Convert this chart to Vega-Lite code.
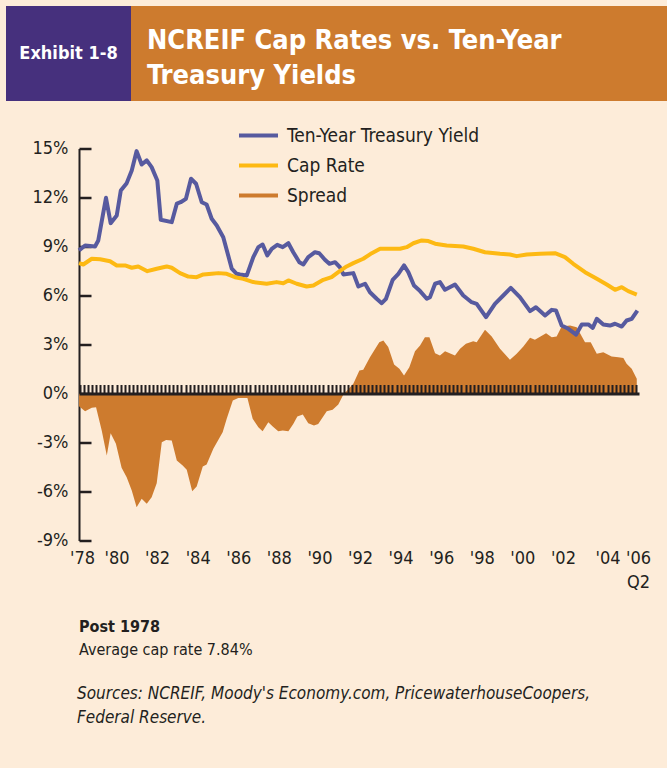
{
  "$schema": "https://vega.github.io/schema/vega-lite/v6.json",
  "background": "#FDECD9",
  "padding": {"left": 6, "top": 6, "right": 0, "bottom": 44},
  "config": {"view": {"stroke": null}, "font": "DejaVu Sans Condensed, Liberation Sans, sans-serif"},
  "datasets": {
    "ty": [
      {"t":1978.15,"v":8.76},{"t":1978.45,"v":9.06},{"t":1978.94,"v":9.0},{"t":1979.10,"v":9.37},{"t":1979.48,"v":11.98},{"t":1979.71,"v":10.43},{"t":1980.01,"v":10.9},{"t":1980.21,"v":12.43},{"t":1980.50,"v":12.88},{"t":1980.75,"v":13.66},{"t":1980.99,"v":14.84},{"t":1981.24,"v":14.02},{"t":1981.49,"v":14.27},{"t":1981.73,"v":13.86},{"t":1982.01,"v":13.04},{"t":1982.18,"v":10.64},{"t":1982.72,"v":10.49},{"t":1982.97,"v":11.62},{"t":1983.16,"v":11.71},{"t":1983.42,"v":11.92},{"t":1983.67,"v":13.15},{"t":1983.92,"v":12.84},{"t":1984.20,"v":11.71},{"t":1984.44,"v":11.57},{"t":1984.69,"v":10.7},{"t":1984.94,"v":10.29},{"t":1985.26,"v":9.57},{"t":1985.68,"v":7.64},{"t":1985.92,"v":7.33},{"t":1986.09,"v":7.29},{"t":1986.42,"v":7.23},{"t":1986.74,"v":8.35},{"t":1986.99,"v":8.96},{"t":1987.20,"v":9.12},{"t":1987.43,"v":8.45},{"t":1987.65,"v":8.86},{"t":1987.92,"v":9.1},{"t":1988.19,"v":8.96},{"t":1988.47,"v":9.2},{"t":1988.71,"v":8.65},{"t":1989.01,"v":8.04},{"t":1989.21,"v":7.9},{"t":1989.45,"v":8.35},{"t":1989.78,"v":8.65},{"t":1989.99,"v":8.59},{"t":1990.27,"v":8.19},{"t":1990.49,"v":7.94},{"t":1990.77,"v":8.04},{"t":1991.01,"v":7.73},{"t":1991.18,"v":7.29},{"t":1991.67,"v":7.37},{"t":1991.92,"v":6.55},{"t":1992.25,"v":6.72},{"t":1992.49,"v":6.2},{"t":1992.82,"v":5.8},{"t":1993.07,"v":5.53},{"t":1993.28,"v":5.8},{"t":1993.61,"v":6.96},{"t":1993.89,"v":7.33},{"t":1994.17,"v":7.84},{"t":1994.38,"v":7.43},{"t":1994.66,"v":6.61},{"t":1994.96,"v":6.27},{"t":1995.29,"v":5.8},{"t":1995.45,"v":5.9},{"t":1995.70,"v":6.72},{"t":1995.94,"v":6.82},{"t":1996.19,"v":6.35},{"t":1996.68,"v":6.67},{"t":1997.09,"v":6.0},{"t":1997.50,"v":5.59},{"t":1997.75,"v":5.49},{"t":1998.21,"v":4.67},{"t":1998.65,"v":5.49},{"t":1999.06,"v":6.0},{"t":1999.43,"v":6.47},{"t":1999.88,"v":5.9},{"t":2000.38,"v":5.04},{"t":2000.67,"v":5.28},{"t":2001.12,"v":4.78},{"t":2001.45,"v":5.12},{"t":2001.66,"v":5.08},{"t":2001.94,"v":4.16},{"t":2002.27,"v":3.96},{"t":2002.65,"v":3.61},{"t":2002.93,"v":4.23},{"t":2003.25,"v":4.23},{"t":2003.47,"v":4.02},{"t":2003.67,"v":4.57},{"t":2003.99,"v":4.23},{"t":2004.32,"v":4.16},{"t":2004.57,"v":4.27},{"t":2004.90,"v":4.1},{"t":2005.14,"v":4.47},{"t":2005.39,"v":4.57},{"t":2005.67,"v":5.08}
    ],
    "cap": [
      {"t":1978.15,"v":7.98},{"t":1978.36,"v":7.9},{"t":1978.78,"v":8.25},{"t":1979.19,"v":8.22},{"t":1979.68,"v":8.1},{"t":1980.01,"v":7.84},{"t":1980.42,"v":7.84},{"t":1980.75,"v":7.7},{"t":1981.07,"v":7.78},{"t":1981.52,"v":7.49},{"t":1981.98,"v":7.64},{"t":1982.47,"v":7.78},{"t":1982.72,"v":7.7},{"t":1983.13,"v":7.37},{"t":1983.54,"v":7.16},{"t":1983.95,"v":7.12},{"t":1984.28,"v":7.29},{"t":1984.69,"v":7.33},{"t":1985.02,"v":7.37},{"t":1985.43,"v":7.33},{"t":1985.84,"v":7.12},{"t":1986.25,"v":7.02},{"t":1986.74,"v":6.82},{"t":1987.40,"v":6.72},{"t":1987.89,"v":6.82},{"t":1988.22,"v":6.75},{"t":1988.47,"v":6.92},{"t":1988.88,"v":6.72},{"t":1989.37,"v":6.55},{"t":1989.70,"v":6.61},{"t":1990.19,"v":6.96},{"t":1990.60,"v":7.12},{"t":1990.93,"v":7.43},{"t":1991.34,"v":7.78},{"t":1991.67,"v":7.98},{"t":1992.16,"v":8.25},{"t":1992.58,"v":8.59},{"t":1992.99,"v":8.86},{"t":1993.48,"v":8.86},{"t":1993.97,"v":8.86},{"t":1994.30,"v":8.96},{"t":1994.63,"v":9.2},{"t":1995.04,"v":9.37},{"t":1995.37,"v":9.33},{"t":1995.70,"v":9.17},{"t":1995.94,"v":9.12},{"t":1996.27,"v":9.06},{"t":1997.09,"v":9.0},{"t":1997.58,"v":8.86},{"t":1998.16,"v":8.65},{"t":1998.90,"v":8.55},{"t":1999.39,"v":8.51},{"t":1999.72,"v":8.41},{"t":2000.22,"v":8.51},{"t":2000.87,"v":8.55},{"t":2001.61,"v":8.59},{"t":2002.10,"v":8.35},{"t":2002.51,"v":7.94},{"t":2003.09,"v":7.43},{"t":2003.67,"v":7.02},{"t":2004.16,"v":6.67},{"t":2004.57,"v":6.35},{"t":2004.90,"v":6.51},{"t":2005.22,"v":6.27},{"t":2005.64,"v":6.06}
    ],
    "spread": [
      {"t":1978.15,"v":-0.78},{"t":1978.45,"v":-1.08},{"t":1978.78,"v":-0.88},{"t":1978.99,"v":-0.84},{"t":1979.27,"v":-2.27},{"t":1979.52,"v":-3.8},{"t":1979.71,"v":-2.43},{"t":1979.97,"v":-3.08},{"t":1980.25,"v":-4.55},{"t":1980.50,"v":-5.13},{"t":1980.75,"v":-5.94},{"t":1980.99,"v":-6.96},{"t":1981.24,"v":-6.45},{"t":1981.49,"v":-6.75},{"t":1981.73,"v":-6.35},{"t":1981.98,"v":-5.49},{"t":1982.23,"v":-2.98},{"t":1982.44,"v":-2.84},{"t":1982.72,"v":-2.88},{"t":1982.97,"v":-4.1},{"t":1983.26,"v":-4.41},{"t":1983.46,"v":-4.67},{"t":1983.73,"v":-5.98},{"t":1983.95,"v":-5.69},{"t":1984.25,"v":-4.47},{"t":1984.44,"v":-4.35},{"t":1984.77,"v":-3.39},{"t":1985.23,"v":-2.37},{"t":1985.43,"v":-1.55},{"t":1985.73,"v":-0.43},{"t":1986.00,"v":-0.27},{"t":1986.45,"v":-0.27},{"t":1986.71,"v":-1.55},{"t":1986.99,"v":-2.06},{"t":1987.20,"v":-2.31},{"t":1987.48,"v":-1.76},{"t":1987.70,"v":-2.02},{"t":1987.97,"v":-2.31},{"t":1988.19,"v":-2.27},{"t":1988.47,"v":-2.31},{"t":1988.71,"v":-1.86},{"t":1988.91,"v":-1.41},{"t":1989.18,"v":-1.29},{"t":1989.45,"v":-1.82},{"t":1989.73,"v":-1.96},{"t":1989.94,"v":-1.86},{"t":1990.36,"v":-1.08},{"t":1990.65,"v":-1.0},{"t":1990.93,"v":-0.67},{"t":1991.18,"v":-0.06},{"t":1991.67,"v":0.59},{"t":1991.97,"v":1.41},{"t":1992.16,"v":1.45},{"t":1992.49,"v":2.22},{"t":1992.95,"v":3.14},{"t":1993.15,"v":3.25},{"t":1993.39,"v":2.84},{"t":1993.68,"v":1.78},{"t":1993.94,"v":1.51},{"t":1994.17,"v":1.1},{"t":1994.43,"v":1.61},{"t":1994.71,"v":2.59},{"t":1994.96,"v":2.94},{"t":1995.20,"v":3.45},{"t":1995.42,"v":3.45},{"t":1995.70,"v":2.47},{"t":1995.94,"v":2.33},{"t":1996.19,"v":2.59},{"t":1996.68,"v":2.33},{"t":1996.93,"v":2.74},{"t":1997.22,"v":3.04},{"t":1997.58,"v":3.2},{"t":1997.75,"v":3.14},{"t":1998.16,"v":3.9},{"t":1998.49,"v":3.49},{"t":1998.90,"v":2.74},{"t":1999.39,"v":2.06},{"t":1999.72,"v":2.43},{"t":2000.05,"v":2.88},{"t":2000.38,"v":3.41},{"t":2000.62,"v":3.29},{"t":2001.17,"v":3.69},{"t":2001.45,"v":3.45},{"t":2001.69,"v":3.49},{"t":2001.94,"v":4.1},{"t":2002.35,"v":4.16},{"t":2002.68,"v":4.06},{"t":2003.09,"v":3.14},{"t":2003.37,"v":3.14},{"t":2003.67,"v":2.43},{"t":2003.99,"v":2.53},{"t":2004.40,"v":2.27},{"t":2004.73,"v":2.22},{"t":2004.98,"v":2.18},{"t":2005.14,"v":1.82},{"t":2005.39,"v":1.51},{"t":2005.64,"v":0.9}
    ]
  },
  "title": {
    "text": ["Sources: NCREIF, Moody's Economy.com, PricewaterhouseCoopers,", "Federal Reserve."],
    "orient": "bottom", "anchor": "start", "frame": "group", "dx": 71, "offset": 28,
    "font": "DejaVu Sans Condensed, Liberation Sans, sans-serif", "fontSize": 17, "fontStyle": "italic", "fontWeight": "normal",
    "color": "#231F20", "lineHeight": 24
  },
  "columns": 1,
  "spacing": 24.5,
  "resolve": {"scale": {"color": "independent"}, "legend": {"color": "independent"}},
  "concat": [
    {
      "spacing": 0,
      "hconcat": [
        {
          "width": 125, "height": 95,
          "view": {"fill": "#46307D", "stroke": null},
          "data": {"values": [{"label": "Exhibit 1-8"}]},
          "mark": {"type": "text", "font": "DejaVu Sans Condensed, Liberation Sans, sans-serif", "fontSize": 18, "fontWeight": "bold", "color": "#FFFFFF"},
          "encoding": {"text": {"field": "label", "type": "nominal"}}
        },
        {
          "width": 536, "height": 95,
          "view": {"fill": "#CD7B2E", "stroke": null},
          "title": {
            "text": ["NCREIF Cap Rates vs. Ten-Year", "Treasury Yields"],
            "orient": "top", "anchor": "start", "frame": "group", "baseline": "bottom",
            "offset": -111, "dx": 16,
            "font": "DejaVu Sans Condensed, Liberation Sans, sans-serif", "fontSize": 27, "fontWeight": "bold",
            "color": "#FFFFFF", "lineHeight": 35
          },
          "data": {"values": []},
          "mark": {"type": "text"},
          "encoding": {}
        }
      ]
    },
    {
      "spacing": 0,
      "resolve": {"scale": {"color": "independent"}, "legend": {"color": "independent"}},
      "hconcat": [
        {
          "width": 1, "height": 1,
          "data": {"values": []},
          "mark": {"type": "point"},
          "encoding": {}
        },
        {
          "width": 560, "height": 392,
          "title": {
            "text": "Post 1978", "subtitle": "Average cap rate 7.84%",
            "orient": "bottom", "anchor": "start", "frame": "group", "offset": 27,
            "font": "DejaVu Sans Condensed, Liberation Sans, sans-serif", "fontSize": 16, "fontWeight": "bold", "color": "#231F20",
            "subtitleFont": "DejaVu Sans Condensed, Liberation Sans, sans-serif", "subtitleFontSize": 16, "subtitleColor": "#231F20",
            "subtitleFontWeight": "normal", "subtitlePadding": 7
          },
          "resolve": {"axis": {"x": "independent"}},
          "layer": [
            {
              "data": {"name": "spread"},
              "mark": {"type": "area", "opacity": 1, "color": "#CD7B2E"},
              "encoding": {
                "x": {"field": "t", "type": "quantitative",
                  "scale": {"domain": [1978.15, 2005.75], "nice": false, "zero": false},
                  "axis": {"orient": "top", "offset": -245, "title": null, "labels": false, "grid": false,
                    "domain": true, "domainColor": "#231F20", "domainWidth": 3,
                    "ticks": true, "tickColor": "#231F20", "tickWidth": 2, "tickSize": 9, "tickCount": 150,
                    "zindex": 1}},
                "y": {"field": "v", "type": "quantitative",
                  "scale": {"domain": [-9, 15], "nice": false, "zero": false},
                  "axis": {"values": [-9, -6, -3, 0, 3, 6, 9, 12, 15], "labelExpr": "datum.value + '%'",
                    "title": null, "grid": false, "domain": true, "domainColor": "#231F20", "domainWidth": 2,
                    "ticks": true, "tickColor": "#231F20", "tickWidth": 2.5, "tickSize": -12,
                    "labelPadding": 23, "labelFont": "DejaVu Sans Condensed, Liberation Sans, sans-serif", "labelFontSize": 18,
                    "labelColor": "#231F20", "minExtent": 72}},
                "y2": {"datum": 0}
              }
            },
            {
              "data": {"name": "ty"},
              "mark": {"type": "line", "strokeWidth": 4, "strokeJoin": "round"},
              "encoding": {
                "x": {"field": "t", "type": "quantitative",
                  "scale": {"domain": [1978.15, 2005.75], "nice": false, "zero": false},
                  "axis": {"orient": "bottom", "values": [1978.3, 1980, 1982, 1984, 1986, 1988, 1990, 1992, 1994, 1996, 1998, 2000, 2002, 2004.2, 2005.7],
                    "labelExpr": "datum.value < 1979 ? \"'78\" : datum.value > 2005 ? [\"'06\", \"Q2\"] : \"'\" + slice(toString(floor(datum.value)), 2)",
                    "title": null, "grid": false, "domain": false, "ticks": false, "labelPadding": 9,
                    "labelFont": "DejaVu Sans Condensed, Liberation Sans, sans-serif", "labelFontSize": 18, "labelColor": "#231F20",
                    "labelLineHeight": 24, "labelOverlap": false, "labelFlush": false}},
                "y": {"field": "v", "type": "quantitative"},
                "color": {"datum": "Ten-Year Treasury Yield", "type": "nominal",
                  "scale": {"domain": ["Ten-Year Treasury Yield", "Cap Rate", "Spread"],
                            "range": ["#575A9F", "#FDB913", "#CD7B2E"]},
                  "legend": {"orient": "none", "legendX": 170, "legendY": -22.5, "title": null, "padding": 0,
                    "symbolType": "M-2.6,0L2.6,0", "symbolSize": 225, "symbolStrokeWidth": 4,
                    "labelFont": "DejaVu Sans Condensed, Liberation Sans, sans-serif", "labelFontSize": 19, "labelColor": "#231F20",
                    "labelOffset": 19, "labelLimit": 400, "rowPadding": 10}}
              }
            },
            {
              "data": {"name": "cap"},
              "mark": {"type": "line", "strokeWidth": 4, "strokeJoin": "round"},
              "encoding": {
                "x": {"field": "t", "type": "quantitative",
                  "scale": {"domain": [1978.15, 2005.75], "nice": false, "zero": false},
                  "axis": null},
                "y": {"field": "v", "type": "quantitative"},
                "color": {"datum": "Cap Rate", "type": "nominal"}
              }
            }
          ]
        }
      ]
    }
  ]
}
